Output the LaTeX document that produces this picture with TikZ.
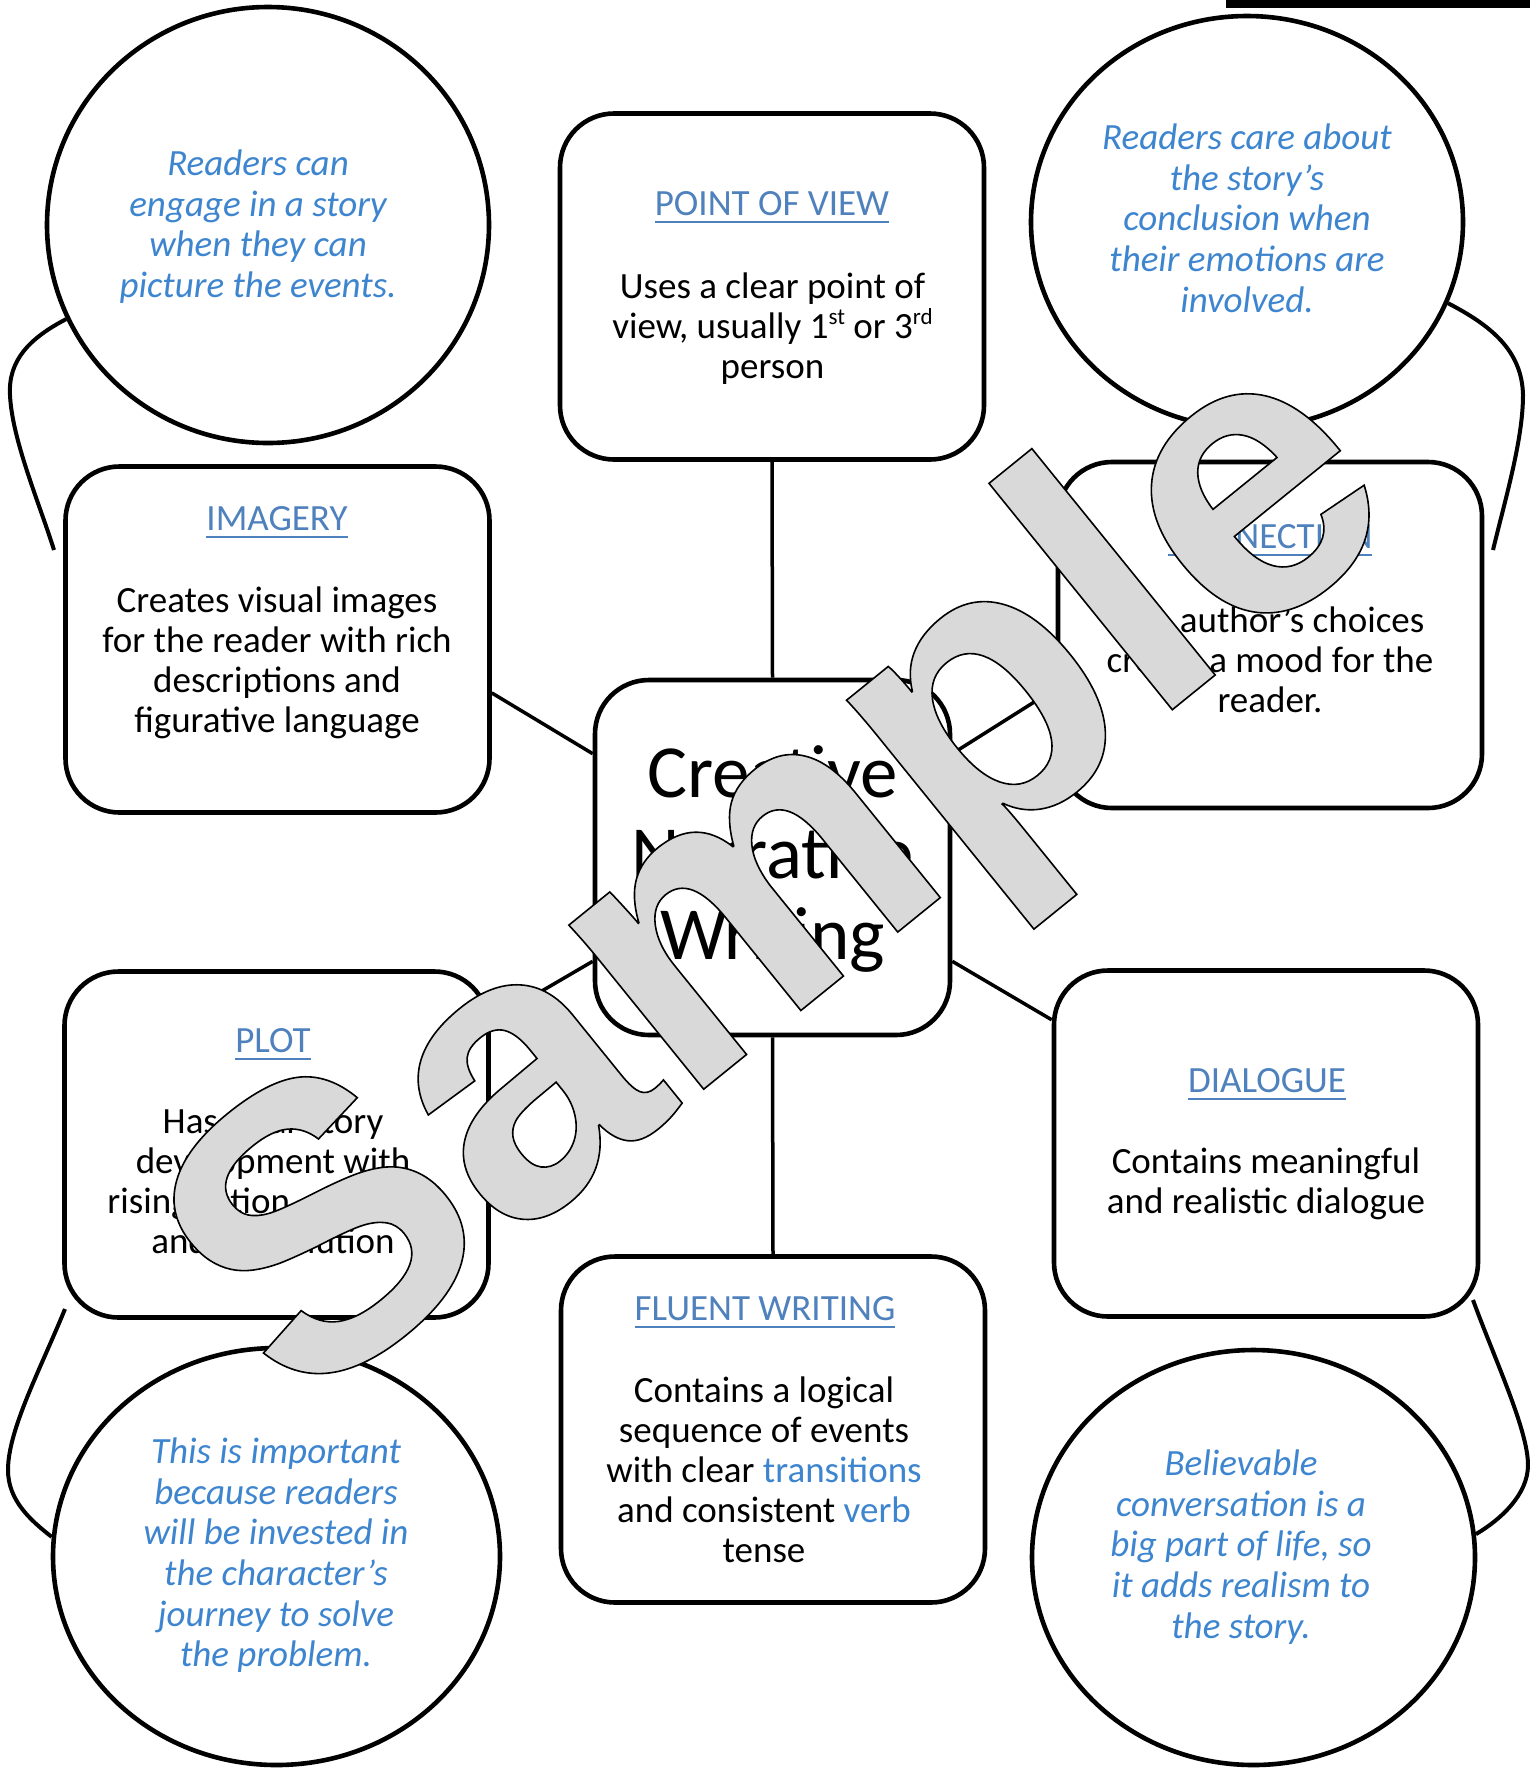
\documentclass[tikz,border=0pt]{standalone}
\usepackage{fontspec}
\setmainfont{Carlito}
\newfontfamily\markfont{Liberation Sans}
\usepackage{xcolor}
\usepackage{tikz}
\usetikzlibrary{shapes.geometric}
\definecolor{headBlue}{HTML}{4F81BD}
\definecolor{noteBlue}{HTML}{3E85CF}
\definecolor{markGray}{HTML}{D9D9D9}

\newcommand{\heading}[1]{\setbox0=\hbox{#1}\rlap{\rule[-4.1pt]{\wd0}{1.2pt}}\box0}
\newcommand{\topstrut}{\rule{0pt}{15pt}}
\newcommand{\ordsup}[1]{\raisebox{0.38em}{\fontsize{11.5}{12}\selectfont #1}}

\tikzset{
  topicbox/.style={draw, fill=white, line width=2.3pt, rounded corners=27pt,
    minimum width=212pt, minimum height=173pt, inner sep=0pt},
  notebubble/.style={draw, fill=white, ellipse, line width=2.3pt, inner sep=0pt},
  link/.style={line width=1.75pt},
  tail/.style={line width=2pt},
  headtext/.style={anchor=base, inner sep=0pt, text=headBlue, font=\fontsize{18.5}{20}\selectfont},
  bodytext/.style={anchor=north, inner sep=0pt, align=center, font=\fontsize{18.5}{20}\selectfont},
  notetext/.style={anchor=north, inner sep=0pt, align=center, text=noteBlue,
    font=\fontsize{18.5}{20.35}\selectfont\itshape},
}

\begin{document}
\begin{tikzpicture}[x=0.5pt, y=-0.5pt]
  \useasboundingbox (0,0) rectangle (1530,1768);
  % bar in the top corner
  \fill[black] (1226,0) rectangle (1530,8);

  % thought bubbles
  \node[notebubble, minimum width=221pt, minimum height=218pt] (imgNote) at (268,225) {};
  \node[notebubble, minimum width=216pt, minimum height=206pt] (connNote) at (1247,222) {};
  \node[notebubble, minimum width=223.5pt, minimum height=208.5pt] (plotNote) at (276.5,1556.5) {};
  \node[notebubble, minimum width=221.5pt, minimum height=207.5pt] (dlgNote) at (1253.5,1557.5) {};

  % bubble tails
  \coordinate (imgTailEnd) at (54,550);
  \coordinate (connTailEnd) at (1493,550);
  \coordinate (plotTailEnd) at (65,1309);
  \coordinate (dlgTailEnd) at (1473,1300);
  \draw[tail] (imgNote.205) .. controls (30,338) and (8,360) .. (10,395)
    .. controls (12,440) and (40,505) .. (imgTailEnd);
  \draw[tail] (connNote.-22) .. controls (1490,325) and (1522,350) .. (1523,395)
    .. controls (1523,440) and (1505,500) .. (connTailEnd);
  \draw[tail] (plotTailEnd) .. controls (40,1370) and (8,1430) .. (8,1470)
    .. controls (8,1500) and (30,1520) .. (plotNote.175);
  \draw[tail] (dlgTailEnd) .. controls (1495,1360) and (1528,1430) .. (1528,1465)
    .. controls (1528,1495) and (1500,1520) .. (dlgNote.6);

  % topic boxes
  \node[topicbox, minimum width=177.5pt, minimum height=177.5pt] (core) at (772.5,857.5) {};
  \node[topicbox] (pov) at (772,286.5) {};
  \node[topicbox] (imagery) at (277.5,639.5) {};
  \node[topicbox] (conn) at (1270,635) {};
  \node[topicbox] (plot) at (276.5,1144.5) {};
  \node[topicbox] (dialogue) at (1266,1143.5) {};
  \node[topicbox] (fluent) at (773,1429.5) {};

  % spokes
  \draw[link] (pov.south) -- (core.north);
  \draw[link] (core.south) -- (fluent.north);
  \draw[link] (imagery.-14) -- (core.150);
  \draw[link] (core.30) -- (conn.194);
  \draw[link] (core.210) -- (plot.30);
  \draw[link] (core.330) -- (dialogue.150);

  % centre text
  \node[bodytext, font=\fontsize{37.5}{40.5}\selectfont] (coreText) at (772.5,737)
    {\rule{0pt}{30pt}Creative\\Narrative\\Writing};

  % headings
  \node[headtext] (povHead) at (772,215) {\heading{POINT OF VIEW}};
  \node[headtext] (imageryHead) at (277,530) {\heading{IMAGERY}};
  \node[headtext] (connHead) at (1270,548) {\heading{CONNECTION}};
  \node[headtext] (plotHead) at (273,1052) {\heading{PLOT}};
  \node[headtext] (dialogueHead) at (1267,1092) {\heading{DIALOGUE}};
  \node[headtext] (fluentHead) at (765,1320) {\heading{FLUENT WRITING}};

  % box texts
  \node[bodytext] (povText) at (772.5,268)
    {\topstrut Uses a clear point of\\view, usually 1\ordsup{st} or 3\ordsup{rd}\\person};
  \node[bodytext] (imageryText) at (277,582)
    {\topstrut Creates visual images\\for the reader with rich\\descriptions and\\figurative language};
  \node[bodytext] (connText) at (1270,602)
    {\topstrut The author’s choices\\create a mood for the\\reader.};
  \node[bodytext] (plotText) at (273,1103)
    {\topstrut Has clear story\\development with\\rising action, a climax,\\and a resolution};
  \node[bodytext] (dialogueText) at (1266,1143)
    {\topstrut Contains meaningful\\and realistic dialogue};
  \node[bodytext] (fluentText) at (764,1372)
    {\topstrut Contains a logical\\sequence of events\\with clear \textcolor{noteBlue}{transitions}\\and consistent \textcolor{noteBlue}{verb}\\tense};

  % bubble texts
  \node[notetext] (imgNoteText) at (258,145)
    {\topstrut Readers can\\engage in a story\\when they can\\picture the events.};
  \node[notetext] (connNoteText) at (1247,119)
    {\topstrut Readers care about\\the story’s\\conclusion when\\their emotions are\\involved.};
  \node[notetext] (plotNoteText) at (276,1433)
    {\topstrut This is important\\because readers\\will be invested in\\the character’s\\journey to solve\\the problem.};
  \node[notetext] (dlgNoteText) at (1241,1445)
    {\topstrut Believable\\conversation is a\\big part of life, so\\it adds realism to\\the story.};

  % watermark on top
  \node[anchor=base west, inner sep=0pt, rotate=39, text=markGray,
    font=\markfont\bfseries\fontsize{201}{204}\selectfont] (mark) at (299.5,1416.5)
    {\special{pdf:literal direct 0 G 2 Tr 0.8 w}Sample\special{pdf:literal direct 0 Tr}};
\end{tikzpicture}
\end{document}
